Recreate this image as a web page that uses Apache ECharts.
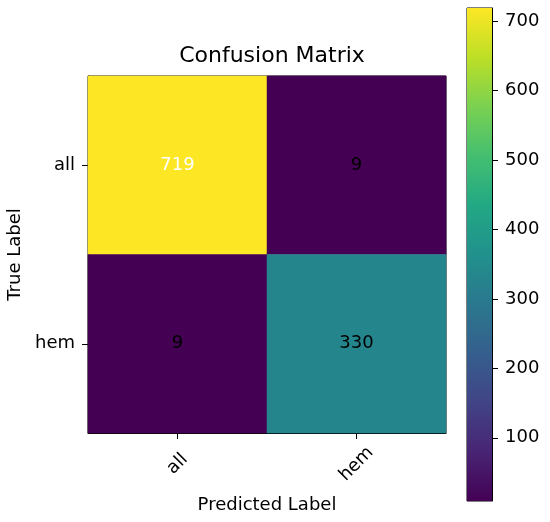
<!DOCTYPE html>
<html>
<head>
<meta charset="utf-8">
<script src="https://cdn.jsdelivr.net/npm/echarts@6/dist/echarts.min.js"></script>
<style>html,body{margin:0;padding:0;background:#fff}#c{width:550px;height:522px}</style>
</head>
<body>
<div id="c"></div>
<script>
const predictedLabels = ['all', 'hem'];
const trueLabels = ['all', 'hem'];
const rowAll = [719, 9];
const rowHem = [9, 330];
const matrix = [rowAll, rowHem];
const colorbarTicks = [100, 200, 300, 400, 500, 600, 700];
const viridis = ['#440154','#482475','#414487','#355f8d','#2a788e','#21918c','#22a884','#44bf70','#7ad151','#bddf26','#fde725'];

const allVals = matrix.flat();
const vmin = Math.min(...allVals);
const vmax = Math.max(...allVals);
const thresh = vmax / 2;

const heatData = [];
matrix.forEach((row, i) => row.forEach((v, j) => {
  heatData.push({ value: [j, i, v], label: { color: v > thresh ? '#ffffff' : '#000000' } });
}));

const FONT = 'DejaVu Sans';
const FS = 18;
const chart = echarts.init(document.getElementById('c'));
const gradStops = viridis.map((c, k) => ({ offset: k / (viridis.length - 1), color: c }));

chart.setOption({
  animation: false,
  backgroundColor: '#ffffff',
  textStyle: { fontFamily: FONT },
  title: {
    text: 'Confusion Matrix',
    left: 267, top: 40, textAlign: 'center',
    textStyle: { fontFamily: FONT, fontSize: 22, fontWeight: 'normal', color: '#000' }
  },
  grid: [
    { left: 88, top: 76, width: 358, height: 357, show: true, borderColor: '#000', borderWidth: 1, backgroundColor: 'transparent', containLabel: false, outerBoundsMode: 'none' },
    { left: 467, top: 8, width: 25, height: 493, show: true, borderColor: '#000', borderWidth: 1, backgroundColor: 'transparent', containLabel: false, outerBoundsMode: 'none' }
  ],
  xAxis: [
    {
      type: 'category', gridIndex: 0, data: predictedLabels,
      name: 'Predicted Label', nameLocation: 'middle', nameGap: 63,
      nameTextStyle: { fontFamily: FONT, fontSize: FS, color: '#000' },
      axisLine: { show: true, lineStyle: { color: '#000', width: 1 } },
      axisTick: { show: true, alignWithLabel: true, length: 6, lineStyle: { color: '#000' } },
      axisLabel: { rotate: 45, align: 'center', verticalAlign: 'middle', margin: 31, fontFamily: FONT, fontSize: FS, color: '#000' },
      splitLine: { show: false }
    },
    {
      type: 'category', gridIndex: 1, data: ['cb'], show: false
    }
  ],
  yAxis: [
    {
      type: 'category', gridIndex: 0, data: trueLabels, inverse: true,
      name: 'True Label', nameLocation: 'middle', nameGap: 63, nameRotate: 90,
      nameTextStyle: { fontFamily: FONT, fontSize: FS, color: '#000' },
      axisLine: { show: true, lineStyle: { color: '#000', width: 1 } },
      axisTick: { show: true, alignWithLabel: true, length: 6, lineStyle: { color: '#000' } },
      axisLabel: { margin: 13, fontFamily: FONT, fontSize: FS, color: '#000' },
      splitLine: { show: false }
    },
    {
      type: 'value', gridIndex: 1, position: 'right', min: vmin, max: vmax,
      axisLine: { show: true, lineStyle: { color: '#000', width: 1 } },
      axisTick: { show: true, length: 6, lineStyle: { color: '#000' }, customValues: colorbarTicks },
      axisLabel: { margin: 13, fontFamily: FONT, fontSize: FS, color: '#000', customValues: colorbarTicks },
      splitLine: { show: false }
    }
  ],
  visualMap: {
    show: false, type: 'continuous', min: vmin, max: vmax, seriesIndex: 0, dimension: 2,
    inRange: { color: viridis }
  },
  series: [
    {
      type: 'heatmap', xAxisIndex: 0, yAxisIndex: 0, data: heatData,
      label: { show: true, fontFamily: FONT, fontSize: FS, formatter: p => String(p.value[2]) },
      itemStyle: { borderWidth: 0 },
      emphasis: { disabled: true }
    },
    {
      type: 'bar', xAxisIndex: 1, yAxisIndex: 1, data: [vmax], barWidth: '100%', clip: true,
      itemStyle: {
        color: new echarts.graphic.LinearGradient(0, 501, 0, 8, gradStops, true)
      },
      emphasis: { disabled: true }
    }
  ]
});
</script>
</body>
</html>
